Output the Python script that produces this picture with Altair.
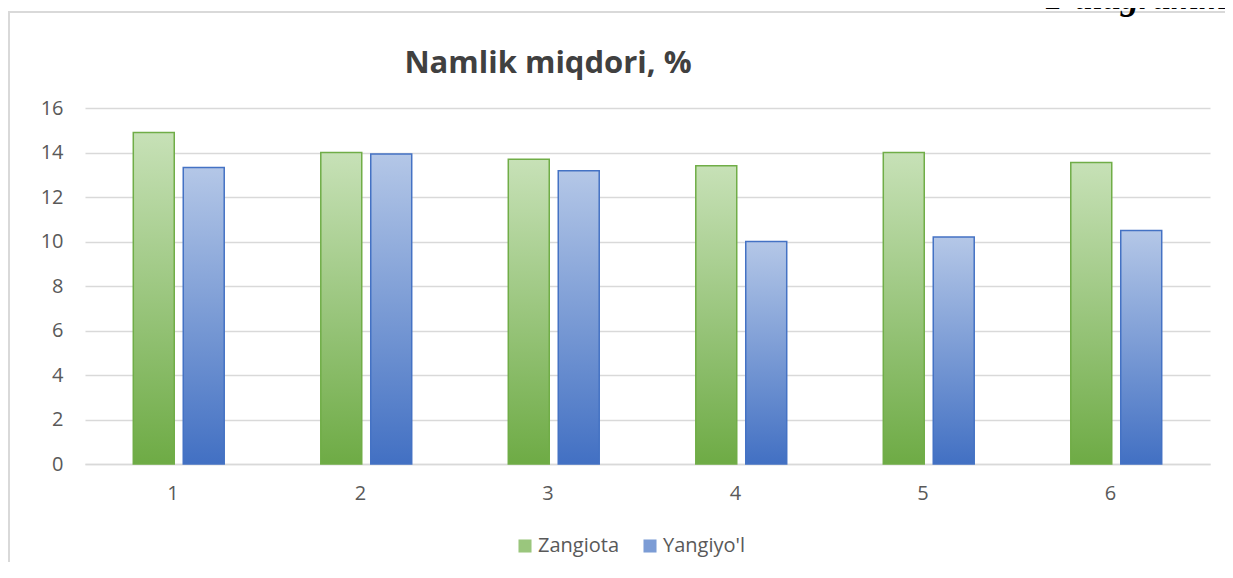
import altair as alt
import pandas as pd

categories = ["1", "2", "3", "4", "5", "6"]
series_names = ["Zangiota", "Yangiyo'l"]
zangiota = [14.9, 14.0, 13.7, 13.4, 14.0, 13.55]
yangiyol = [13.33, 13.93, 13.18, 10.0, 10.2, 10.5]
y_ticks = [0, 2, 4, 6, 8, 10, 12, 14, 16]
title_text = "Namlik miqdori, %"
corner_text = "1-diagramm"

rows = []
for c, z, y in zip(categories, zangiota, yangiyol):
    rows.append({"cat": c, "series": series_names[0], "value": z})
    rows.append({"cat": c, "series": series_names[1], "value": y})
df = pd.DataFrame(rows)

GREEN = "#70AD47"
BLUE = "#4472C4"
grad_green = alt.Gradient(gradient="linear", x1=0, x2=0, y1=0, y2=1,
                          stops=[alt.GradientStop(color="#C7E1B7", offset=0),
                                 alt.GradientStop(color="#6EAB45", offset=1)])
grad_blue = alt.Gradient(gradient="linear", x1=0, x2=0, y1=0, y2=1,
                         stops=[alt.GradientStop(color="#B4C7E7", offset=0),
                                alt.GradientStop(color="#4270C3", offset=1)])

W, H = 1125, 356
FONT = "Open Sans"

x_enc = alt.X("cat:N", sort=categories, title=None,
              scale=alt.Scale(paddingInner=0.515, paddingOuter=0.2575),
              axis=alt.Axis(labelAngle=0, labelFontSize=20, labelColor="#595959",
                            labelFont=FONT, labelPadding=29, ticks=False,
                            domainColor="#D9D9D9", domainWidth=1.5, grid=False))
xo_enc = alt.XOffset("series:N", sort=series_names,
                     scale=alt.Scale(domain=series_names, paddingInner=0.18, paddingOuter=0))
y_enc = alt.Y("value:Q", title=None,
              scale=alt.Scale(domain=[0, 16], nice=False),
              axis=alt.Axis(values=y_ticks, labelFontSize=20, labelColor="#595959",
                            labelFont=FONT, labelPadding=22, ticks=False, domain=False,
                            gridColor="#D9D9D9", gridWidth=1.5))

is_z = f"datum.series === '{series_names[0]}'"

bars = alt.Chart(df).mark_bar(strokeWidth=1.5).encode(
    x=x_enc, xOffset=xo_enc, y=y_enc,
    fill=alt.condition(is_z, alt.value(grad_green), alt.value(grad_blue)),
    stroke=alt.condition(is_z, alt.value(GREEN), alt.value(BLUE)),
)

legend_layer = alt.Chart(df).mark_bar(opacity=0).encode(
    x=alt.X("cat:N", sort=categories),
    xOffset=alt.XOffset("series:N", sort=series_names),
    y=alt.Y("value:Q"),
    color=alt.Color("series:N", sort=series_names,
                    scale=alt.Scale(domain=series_names, range=["#9AC67D", "#7C9CD5"]),
                    legend=alt.Legend(title=None, orient="none", legendX=430, legendY=428,
                                      direction="horizontal", symbolType="square",
                                      symbolSize=170, symbolOpacity=1,
                                      symbolStrokeWidth=0,
                                      labelFontSize=20, labelColor="#595959",
                                      labelFont=FONT, columnPadding=20, labelOffset=3)),
)

one = pd.DataFrame({"t": [title_text], "c": [corner_text]})

title = alt.Chart(one).mark_text(fontSize=31, fontWeight="bold", font=FONT,
                                 color="#404040", align="center", baseline="alphabetic").encode(
    text="t:N", x=alt.value(463), y=alt.value(-35))

corner = alt.Chart(one).mark_text(fontSize=36, fontWeight="bold", fontStyle="italic",
                                  font="Liberation Serif", color="#000000",
                                  align="left", baseline="alphabetic").encode(
    text="c:N", x=alt.value(960), y=alt.value(-99))

frame_left = alt.Chart(one).mark_rule(color="#D9D9D9", strokeWidth=2).encode(
    x=alt.value(-76), y=alt.value(-96), y2=alt.value(480))
frame_top = alt.Chart(one).mark_rule(color="#D9D9D9", strokeWidth=2).encode(
    x=alt.value(-77), x2=alt.value(1160), y=alt.value(-96))

chart = alt.layer(frame_left, frame_top, legend_layer, bars, title, corner).properties(
    width=W, height=H,
    padding={"left": 77, "top": 100, "right": 15, "bottom": 98},
    autosize=alt.AutoSizeParams(type="none"),
    background="white",
).configure_view(stroke=None)

chart.save("out.html", embed_options={"renderer": "svg", "actions": False})
